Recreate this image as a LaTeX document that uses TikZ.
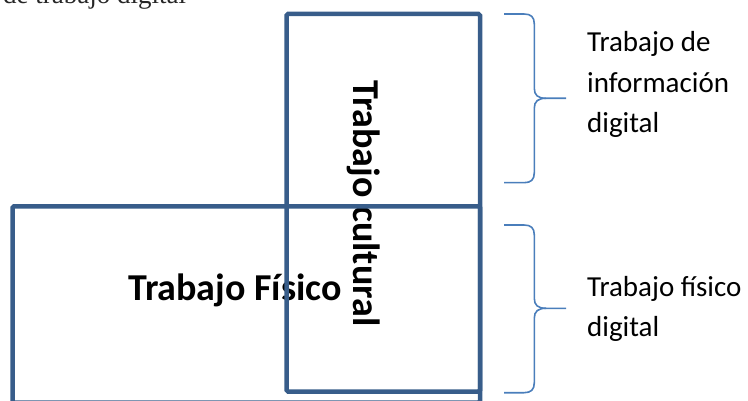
\documentclass[tikz,border=0pt]{standalone}
\usepackage{fontspec}
\setmainfont{Carlito}
\newfontfamily\serifa{Liberation Serif}

\definecolor{marco}{RGB}{56,93,138}
\definecolor{azulllave}{RGB}{74,126,187}

\begin{document}
\begin{tikzpicture}[x=1pt, y=-1pt,
    caja/.style={draw=marco, line width=4.5pt, rounded corners=1.5pt},
    titulo/.style={font=\fontsize{38}{44}\selectfont\bfseries, inner sep=0pt},
    nota/.style={font=\fontsize{29}{40.5}\selectfont, align=left, inner sep=0pt},
    llave/.style={draw=azulllave, line width=1.6pt}]
\useasboundingbox (0,0) rectangle (748,401);
\clip (0,0) rectangle (748,401);

% line cut off at the top
\node[font=\serifa\fontsize{27}{32}\selectfont, anchor=base west, inner sep=0pt, text=black!85] (corte) at (3,3.5) {de trabajo digital};

\node[titulo, anchor=base west] (fisico) at (128,300.5) {Trabajo Físico};
\node[titulo, anchor=base west, rotate=-90] (cultural) at (353,80) {Trabajo cultural};

% boxes
\draw[caja] (12.5,206.3) rectangle (480,402.5);
\draw[caja] (286.5,14) rectangle (480,391.5);

% braces
\foreach \yA/\yT/\yB in {14/98.3/182.7, 225/308.3/392.7}{
  \draw[llave] (504,\yA) -- (524,\yA) .. controls (531,\yA) and (534.3,\yA+3) .. (534.3,\yA+10)
    -- (534.3,\yT-10) .. controls (534.3,\yT-3) and (538,\yT) .. (546,\yT) -- (566,\yT);
  \draw[llave] (546,\yT) .. controls (538,\yT) and (534.3,\yT+3) .. (534.3,\yT+10)
    -- (534.3,\yB-10) .. controls (534.3,\yB-3) and (531,\yB) .. (524,\yB) -- (504,\yB);
}

\node[nota, anchor=base west] (info) at (587,133) {Trabajo de\\información\\digital};
\node[nota, anchor=base west] (fisdig) at (587,337) {Trabajo físico\\digital};
\end{tikzpicture}
\end{document}
